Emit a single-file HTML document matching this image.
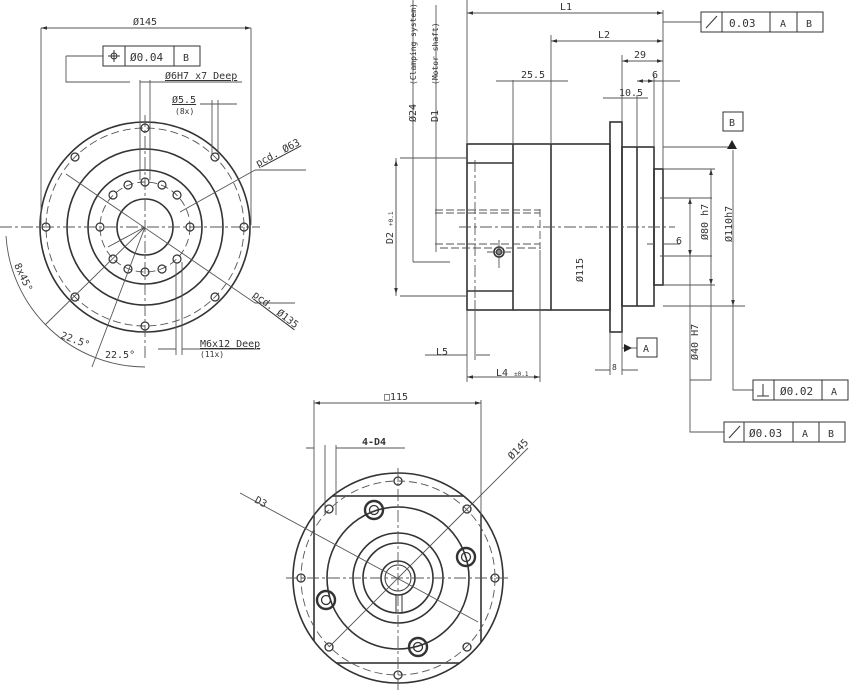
<!DOCTYPE html>
<html><head><style>html,body{margin:0;padding:0;background:#fff}svg{display:block}text{font-family:"DejaVu Sans Mono","Liberation Mono",monospace;fill:#333}</style></head>
<body>
<svg width="850" height="691" viewBox="0 0 850 691" xmlns="http://www.w3.org/2000/svg">
<defs>
<marker id="a" viewBox="0 0 10 6" refX="10" refY="3" markerWidth="8" markerHeight="4" orient="auto-start-reverse"><path d="M0,0L10,3L0,6z" fill="#333"/></marker>
<clipPath id="cc"><circle cx="398" cy="578" r="105"/></clipPath>
</defs>
<g stroke="#333" fill="none" stroke-width="1.6">
<circle cx="145" cy="227" r="105"/>
<circle cx="145" cy="227" r="78"/>
<circle cx="145" cy="227" r="57"/>
<circle cx="145" cy="227" r="28"/>
</g>
<g stroke="#555" fill="none" stroke-width="0.9">
<circle cx="145" cy="227" r="99" stroke-dasharray="8,4"/>
<circle cx="145" cy="227" r="45" stroke-dasharray="8,4"/>
<path d="M0 227H260M145 115V360" stroke-dasharray="12,3,3,3"/>
<g stroke="#333" stroke-width="1.2">
<circle cx="244" cy="227" r="4"/><circle cx="215" cy="157" r="4"/><circle cx="145" cy="128" r="4"/><circle cx="75" cy="157" r="4"/><circle cx="46" cy="227" r="4"/><circle cx="75" cy="297" r="4"/><circle cx="145" cy="326" r="4"/><circle cx="215" cy="297" r="4"/>
<circle cx="145" cy="182" r="4"/><circle cx="162" cy="185" r="4"/><circle cx="177" cy="195" r="4"/><circle cx="128" cy="185" r="4"/><circle cx="113" cy="195" r="4"/><circle cx="190" cy="227" r="4"/><circle cx="100" cy="227" r="4"/><circle cx="145" cy="272" r="4"/><circle cx="128" cy="269" r="4"/><circle cx="162" cy="269" r="4"/><circle cx="113" cy="259" r="4"/><circle cx="177" cy="259" r="4"/>
</g>
<path d="M41 28V225M251 28V225"/>
<path d="M41 28H251" marker-start="url(#a)" marker-end="url(#a)"/>
<path d="M66 56H103M66 56V82H130M140 82H160M160 82H242M140 80V180M150 80V180"/>
<path d="M200 104H237M212 100V155M218 100V155"/>
<path d="M66 174L255 303M255 303H295"/>
<path d="M180 212L255 170M255 170H306" />
<path d="M176 262V355M182 262V355M158 349H176M182 349H260"/>
<path d="M6 236A140 140 0 0 0 145 367" />
<path d="M145 227L45 325M145 227L92 367M145 227L108 247"/>
</g>
<g fill="none" stroke="#333" stroke-width="1">
<rect x="103" y="46" width="22" height="20"/><rect x="125" y="46" width="49" height="20"/><rect x="174" y="46" width="26" height="20"/>
<circle cx="114" cy="56" r="3"/><path d="M108 56H120M114 50V62"/>
</g>
<g font-size="10">
<text x="133" y="25">Ø145</text>
<text x="130" y="61" font-size="11">Ø0.04</text><text x="183" y="61">B</text>
<text x="165" y="79" text-decoration="underline">Ø6H7 x7 Deep</text>
<text x="172" y="103" text-decoration="underline">Ø5.5</text><text x="175" y="114" font-size="8">(8x)</text>
<text x="258" y="167" transform="rotate(-28 258 167)" text-decoration="underline">pcd. Ø63</text>
<text x="252" y="296" transform="rotate(37 252 296)" text-decoration="underline">pcd. Ø135</text>
<text x="200" y="347" text-decoration="underline">M6x12 Deep</text><text x="200" y="357" font-size="8">(11x)</text>
<text x="14" y="265" transform="rotate(65 14 265)">8x45°</text>
<text x="60" y="338" transform="rotate(20 60 338)">22.5°</text>
<text x="105" y="358">22.5°</text>
</g>

<g stroke="#333" fill="none" stroke-width="1.6">
<rect x="467" y="144" width="143" height="166"/>
<path d="M513 144V310M551 144V310M467 163H513M467 291H513"/>
<rect x="610" y="122" width="12" height="210"/>
<rect x="622" y="147" width="32" height="159"/>
<path d="M637 147V306"/>
<rect x="654" y="169" width="9" height="116"/>
<circle cx="499" cy="252" r="5"/><circle cx="499" cy="252" r="2.5"/>
</g>
<g stroke="#555" fill="none" stroke-width="0.9">
<path d="M435 210H540M435 213H540M435 244H540M440 248H540M540 209V249" stroke-dasharray="8,3"/>
<path d="M459 227H675M475 160V300" stroke-dasharray="12,3,3,3"/>
<path d="M499 240V268M487 252H511"/>
<path d="M467 0V144M663 10V169M551 35V144M622 55V122M637 95V147M654 75V147M513 80V144"/>
<path d="M467 13H663" marker-start="url(#a)" marker-end="url(#a)"/>
<path d="M551 41H663" marker-start="url(#a)" marker-end="url(#a)"/>
<path d="M622 61H663" marker-start="url(#a)" marker-end="url(#a)"/>
<path d="M637 81H654" marker-start="url(#a)" marker-end="url(#a)"/>
<path d="M654 81H680M622 98H637M603 98H622M637 98H648"/>
<path d="M496 81H513M551 81H568M513 81H551"/>
<path d="M672 22H701M663 22H672"/>
<path d="M663 147H733M663 306H745M663 169H715M663 285H715M660 198H712M660 256H712"/>
<path d="M733 150V306" marker-end="url(#a)"/>
<path d="M711 169V285" marker-start="url(#a)" marker-end="url(#a)"/>
<path d="M690 198V256" marker-start="url(#a)" marker-end="url(#a)"/>
<path d="M733 306V390H753M711 285V380H690M690 256V432H724"/>
<path d="M647 244H654M663 244H680"/>
<path d="M400 158H467M400 296H467M396 158V296"/>
<path d="M396 160V294" marker-start="url(#a)" marker-end="url(#a)"/>
<path d="M413 0V262M436 5V252M413 210V262M436 210V248M413 262H450"/>
<path d="M467 310V382M540 250V382M475 300V360M476 355H490M425 355H467"/>
<path d="M467 377H540" marker-start="url(#a)" marker-end="url(#a)"/>
<path d="M610 332V375M622 332V375M595 370H610M622 370H638"/>
<path d="M622 348H637"/>
</g>
<path d="M732 140L727 149H737z" fill="#222"/>
<path d="M624 344L632 348L624 352z" fill="#222"/>
<g fill="none" stroke="#333" stroke-width="1">
<rect x="723" y="112" width="20" height="19"/>
<rect x="637" y="338" width="20" height="19"/>
<rect x="701" y="12" width="21" height="20"/><rect x="722" y="12" width="48" height="20"/><rect x="770" y="12" width="27" height="20"/><rect x="797" y="12" width="26" height="20"/>
<rect x="753" y="380" width="21" height="20"/><rect x="774" y="380" width="48" height="20"/><rect x="822" y="380" width="26" height="20"/>
<rect x="724" y="422" width="20" height="20"/><rect x="744" y="422" width="49" height="20"/><rect x="793" y="422" width="26" height="20"/><rect x="819" y="422" width="26" height="20"/>
<path d="M706 28L717 16M757 396H769M763 396V384M729 438L740 426"/>
</g>
<g font-size="10">
<text x="560" y="10">L1</text><text x="598" y="38">L2</text><text x="634" y="58">29</text><text x="652" y="78">6</text><text x="619" y="96">10.5</text><text x="521" y="78">25.5</text>
<text x="729" y="126">B</text><text x="643" y="352">A</text>
<text x="729" y="27" font-size="11">0.03</text><text x="780" y="27">A</text><text x="806" y="27">B</text>
<text x="780" y="395" font-size="11">Ø0.02</text><text x="831" y="395">A</text>
<text x="749" y="437" font-size="11">Ø0.03</text><text x="802" y="437">A</text><text x="828" y="437">B</text>
<text x="676" y="244">6</text><text x="612" y="370" font-size="8">8</text>
<text x="436" y="355">L5</text><text x="496" y="376">L4 <tspan font-size="6">±0.1</tspan></text>
<text transform="translate(708 240) rotate(-90)">Ø80 h7</text>
<text transform="translate(732 242) rotate(-90)">Ø110h7</text>
<text transform="translate(698 360) rotate(-90)">Ø40 H7</text>
<text transform="translate(583 282) rotate(-90)">Ø115</text>
<text transform="translate(393 244) rotate(-90)">D2 <tspan font-size="6">+0.1</tspan></text>
<text transform="translate(416 122) rotate(-90)">Ø24</text>
<text transform="translate(438 122) rotate(-90)">D1</text>
<text transform="translate(416 85) rotate(-90)" font-size="8">(Clamping system)</text>
<text transform="translate(438 85) rotate(-90)" font-size="8">(Motor shaft)</text>
</g>

<g stroke="#333" fill="none" stroke-width="1.6">
<circle cx="398" cy="578" r="105"/>
<rect x="314" y="496" width="167" height="167" clip-path="url(#cc)"/>
<circle cx="398" cy="578" r="71"/>
<circle cx="398" cy="578" r="45"/>
<circle cx="398" cy="578" r="35"/>
<circle cx="398" cy="578" r="17"/>
<circle cx="398" cy="578" r="13" stroke-width="1"/>
<path d="M396 595V612M402 595V612" stroke-width="1"/>
<g stroke-width="2.4">
<circle cx="374" cy="510" r="9"/><circle cx="466" cy="557" r="9"/><circle cx="326" cy="600" r="9"/><circle cx="418" cy="647" r="9"/>
</g>
<g stroke-width="1.3">
<circle cx="374" cy="510" r="4.5"/><circle cx="466" cy="557" r="4.5"/><circle cx="326" cy="600" r="4.5"/><circle cx="418" cy="647" r="4.5"/>
<circle cx="495" cy="578" r="4"/><circle cx="398" cy="481" r="4"/><circle cx="301" cy="578" r="4"/><circle cx="398" cy="675" r="4"/>
<circle cx="467" cy="509" r="4"/><circle cx="329" cy="509" r="4"/><circle cx="329" cy="647" r="4"/><circle cx="467" cy="647" r="4"/>
</g>
</g>
<g stroke="#555" fill="none" stroke-width="0.9">
<circle cx="398" cy="578" r="97" stroke-dasharray="8,4"/>
<path d="M286 578H510M398 468V690" stroke-dasharray="12,3,3,3"/>
<path d="M314 400V530M481 400V530M325 445V515M336 445V515"/>
<path d="M314 403H481" marker-start="url(#a)" marker-end="url(#a)"/>
<path d="M306 448H314M336 448H405"/>
<path d="M240 493L478 622M329 647L467 509L528 448"/>
</g>
<g font-size="10">
<text x="384" y="400">□115</text>
<text x="362" y="445" font-weight="bold">4-D4</text>
<text x="254" y="502" transform="rotate(28 254 502)">D3</text>
<text x="512" y="460" transform="rotate(-45 512 460)">Ø145</text>
</g>
</svg>
</body></html>
